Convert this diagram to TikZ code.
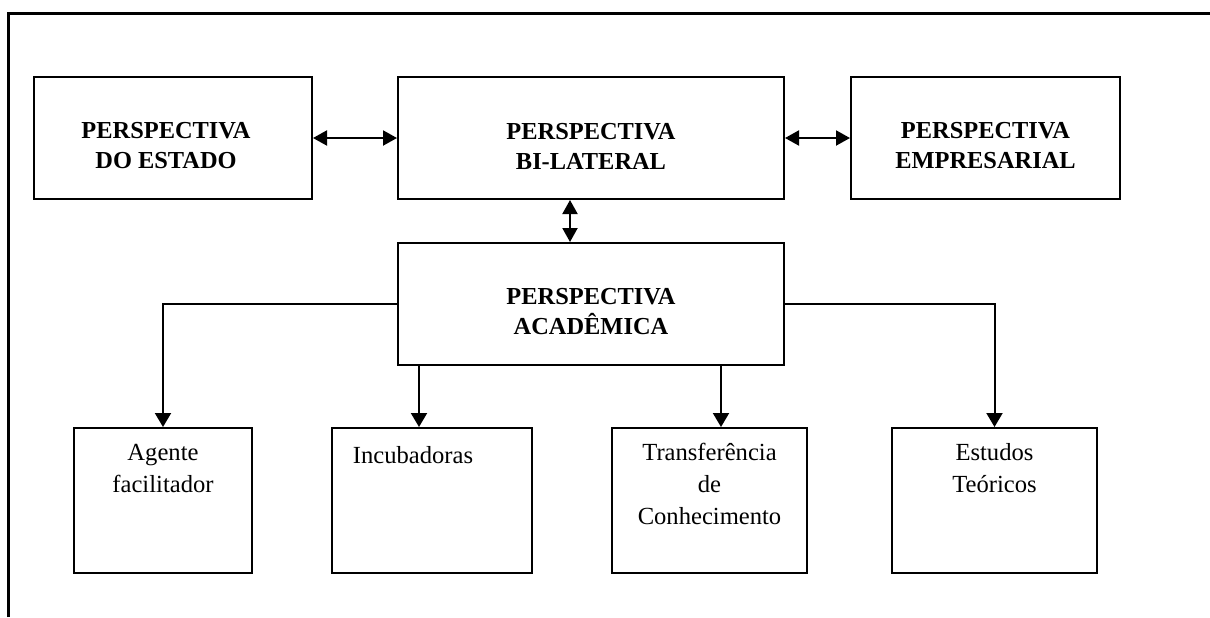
\documentclass[tikz,border=0pt]{standalone}
\usepackage{fontspec}
\setmainfont{Liberation Serif}
\usetikzlibrary{arrows.meta}

\begin{document}
\begin{tikzpicture}[x=0.5pt, y=-0.5pt,
    caixa/.style={draw, line width=1pt, inner sep=0pt},
    texto/.style={align=center, inner sep=0pt, font=\fontsize{12.3}{16}\selectfont},
    titulo/.style={texto, font=\fontsize{12.2}{15}\selectfont\bfseries},
    seta/.style={line width=1pt, -{Triangle[length=7pt,width=8pt]}},
    setadupla/.style={line width=1pt, {Triangle[length=7pt,width=7.5pt]}-{Triangle[length=7pt,width=7.5pt]}}]
    \useasboundingbox (0,0) rectangle (1210,617);
    \draw[line width=1.6pt] (8.5,617) -- (8.5,13.5) -- (1210,13.5);

    \node[caixa, minimum width=139pt, minimum height=61pt] (est) at (173,138) {};
    \node[caixa, minimum width=193pt, minimum height=61pt] (bil) at (591,138) {};
    \node[caixa, minimum width=134.5pt, minimum height=61pt] (emp) at (985.5,138) {};
    \node[caixa, minimum width=193pt, minimum height=61pt] (aca) at (591,304) {};
    \node[caixa, minimum width=89pt, minimum height=72.5pt] (age) at (163,500.5) {};
    \node[caixa, minimum width=100pt, minimum height=72.5pt] (inc) at (432,500.5) {};
    \node[caixa, minimum width=97.5pt, minimum height=72.5pt] (tra) at (709.5,500.5) {};
    \node[caixa, minimum width=102.5pt, minimum height=72.5pt] (stu) at (994.5,500.5) {};

    \node[titulo] (t-est) at (166,146) {PERSPECTIVA\\DO ESTADO};
    \node[titulo] (t-bil) at (591,146) {PERSPECTIVA\\BI-LATERAL};
    \node[titulo] (t-emp) at (985.5,146) {PERSPECTIVA\\EMPRESARIAL};
    \node[titulo] (t-aca) at (591,312) {PERSPECTIVA\\ACADÊMICA};
    \node[texto, anchor=north] (t-age) at (163,444) {Agente\\facilitador};
    \node[texto, anchor=north] (t-inc) at (413,446) {Incubadoras};
    \node[texto, anchor=north] (t-tra) at (709.5,443) {Transferência\\de\\Conhecimento};
    \node[texto, anchor=north] (t-stu) at (994.5,443) {Estudos\\Teóricos};

    \coordinate (v1) at (570,0);
    \coordinate (v2) at (419,0);
    \coordinate (v3) at (721,0);

    \draw[setadupla] (est.east) -- (bil.west);
    \draw[setadupla] (bil.east) -- (emp.west);
    \draw[setadupla] (bil.south -| v1) -- (aca.north -| v1);
    \draw[seta] (aca.west) -| (age.north);
    \draw[seta] (aca.east) -| (stu.north);
    \draw[seta] (aca.south -| v2) -- (inc.north -| v2);
    \draw[seta] (aca.south -| v3) -- (tra.north -| v3);
\end{tikzpicture}
\end{document}
